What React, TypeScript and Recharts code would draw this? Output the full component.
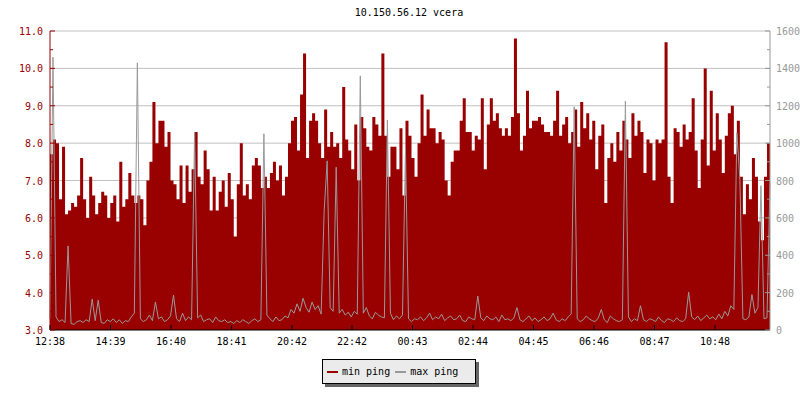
import { ComposedChart, Area, Line, XAxis, YAxis, CartesianGrid } from 'recharts';

const RED = '#990000';
const GRAY = '#999999';
const FONT = '"DejaVu Sans Mono", monospace';

// min ping (ms) – left axis, one value per ~6 minutes, 12:38 -> 12:38
const MIN_PING = [
  7.7, 8.1, 8.0, 6.5, 7.9, 6.1, 6.2, 6.4, 6.3, 6.6,
  7.6, 6.5, 6.0, 7.1, 6.6, 6.1, 6.4, 6.7, 6.6, 6.0,
  6.4, 6.6, 5.9, 7.5, 6.3, 6.5, 7.2, 6.6, 6.4, 6.6,
  6.5, 5.8, 7.0, 7.5, 9.1, 8.0, 8.6, 8.6, 7.9, 8.3,
  7.0, 6.9, 6.5, 7.4, 6.4, 7.4, 6.7, 7.3, 8.3, 7.1,
  6.9, 7.8, 7.3, 6.2, 7.1, 6.2, 6.7, 7.0, 6.3, 7.2,

  6.5, 5.5, 6.9, 8.0, 6.6, 6.9, 6.5, 7.4, 7.6, 7.4,
  6.8, 7.1, 6.8, 7.2, 7.5, 7.0, 7.4, 6.6, 7.1, 8.0,
  8.6, 8.7, 7.8, 9.3, 10.4, 7.6, 8.6, 8.8, 8.6, 8.0,
  7.6, 8.9, 7.9, 8.3, 7.9, 8.0, 7.6, 9.5, 8.1, 7.8,
  7.3, 8.5, 7.0, 8.7, 8.4, 7.9, 7.8, 8.7, 8.5, 8.2,
  10.4, 8.2, 7.1, 7.9, 7.9, 7.3, 8.4, 6.6, 8.6, 8.2,

  7.6, 7.1, 8.0, 9.3, 8.2, 8.9, 8.4, 8.4, 8.0, 8.3,
  8.1, 7.0, 6.6, 7.5, 7.8, 7.8, 8.6, 9.2, 8.3, 8.3,
  7.8, 8.2, 8.1, 9.2, 7.3, 8.5, 9.2, 8.6, 8.8, 8.4,
  8.2, 8.4, 8.2, 8.7, 10.8, 8.8, 7.8, 8.2, 9.4, 8.4,
  8.6, 8.6, 8.7, 8.5, 8.3, 8.3, 8.2, 8.6, 9.4, 8.2,
  8.5, 8.7, 8.0, 8.3, 8.9, 7.9, 9.1, 8.4, 8.8, 8.1,

  8.6, 7.3, 8.2, 8.5, 6.4, 7.6, 8.0, 7.5, 8.3, 7.8,
  8.6, 8.1, 7.6, 8.8, 8.2, 8.6, 8.3, 7.2, 8.1, 8.0,
  7.0, 8.1, 8.0, 8.1, 10.7, 7.1, 6.4, 8.4, 8.3, 7.9,
  8.5, 8.1, 8.3, 9.2, 7.8, 6.8, 8.1, 10.0, 7.4, 9.4,
  7.8, 8.8, 8.1, 7.2, 8.2, 8.8, 9.0, 7.7, 8.6, 7.1,
  6.1, 6.9, 6.5, 7.6, 7.1, 5.9, 5.4, 7.1, 8.0, 6.7,
];

// max ping (ms) – right axis
const MAX_PING = [
  60, 1460, 70, 45, 55, 40, 450, 35, 30, 45, 50, 40, 55, 45, 165, 50, 160, 40, 35, 55,
  45, 60, 40, 55, 35, 50, 45, 70, 90, 1430, 60, 45, 55, 80, 50, 150, 60, 70, 45, 55,
  75, 187, 60, 45, 90, 50, 70, 55, 1060, 65, 80, 45, 55, 60, 40, 70, 50, 45, 55, 40,
  45, 35, 50, 40, 55, 45, 35, 50, 60, 45, 55, 1050, 80, 60, 45, 70, 50, 55, 75, 65,
  110, 90, 140, 100, 170, 120, 95, 150, 110, 130, 85, 636, 905, 120, 100, 871, 90, 110, 80, 95,
  70, 100, 85, 1360, 90, 120, 75, 60, 95, 80, 70, 65, 1123, 90, 55, 75, 60, 80, 968, 60,
  45, 60, 55, 70, 50, 65, 90, 55, 70, 60, 85, 50, 65, 75, 55, 60, 80, 50, 45, 70,
  60, 55, 182, 65, 50, 75, 60, 55, 70, 45, 80, 55, 60, 50, 65, 120, 55, 45, 60, 75,
  50, 65, 45, 55, 70, 50, 60, 90, 55, 45, 60, 50, 70, 85, 1194, 60, 45, 55, 75, 60,
  50, 45, 65, 110, 55, 40, 75, 60, 50, 45, 55, 1225, 70, 45, 60, 50, 130, 55, 45, 60,
  55, 45, 70, 50, 40, 60, 55, 45, 65, 50, 45, 60, 203, 70, 55, 75, 50, 65, 80, 60,
  70, 55, 85, 60, 100, 75, 130, 110, 1055, 807, 60, 55, 70, 190, 90, 120, 772, 60, 65, 788,
];

// minutes after 12:38
const TIME_TICKS = [0, 121, 242, 363, 484, 604, 725, 846, 967, 1088, 1209, 1330];
const TIME_LABELS = ['12:38', '14:39', '16:40', '18:41', '20:42', '22:42', '00:43', '02:44', '04:45', '06:46', '08:47', '10:48'];

const LEFT_TICKS = [3, 3.5, 4, 4.5, 5, 5.5, 6, 6.5, 7, 7.5, 8, 8.5, 9, 9.5, 10, 10.5, 11];
const RIGHT_TICKS = [0, 100, 200, 300, 400, 500, 600, 700, 800, 900, 1000, 1100, 1200, 1300, 1400, 1500, 1600];
const GRID_VALUES = [4, 5, 6, 7, 8, 9, 10, 11];

const data = MIN_PING.map((v, i) => ({
  t: (i * 1440) / (MIN_PING.length - 1),
  min: v,
  max: MAX_PING[i],
}));

const LeftTick = ({ x, y, payload }: any) => {
  const v = payload.value;
  const major = Number.isInteger(v);
  return (
    <g>
      <line x1={x} x2={x + (major ? 5 : 3)} y1={y} y2={y} stroke={RED} />
      {major && (
        <text x={x - 7} y={y + 4} textAnchor="end" fill={RED} fontSize={10} fontFamily={FONT}>
          {v.toFixed(1)}
        </text>
      )}
    </g>
  );
};

const RightTick = ({ x, y, payload }: any) => {
  const v = payload.value;
  const major = v % 200 === 0;
  return (
    <g>
      <line x1={x} x2={x - (major ? 5 : 3)} y1={y} y2={y} stroke={GRAY} />
      {major && (
        <text x={x + 6} y={y + 4} textAnchor="start" fill={GRAY} fontSize={10} fontFamily={FONT}>
          {v}
        </text>
      )}
    </g>
  );
};

const TimeTick = ({ x, y, payload }: any) => {
  const idx = TIME_TICKS.indexOf(payload.value);
  return (
    <g>
      <line x1={x} x2={x} y1={y} y2={y - 5} stroke="#000" />
      <text x={x} y={y + 15} textAnchor="middle" fill="#000" fontSize={10} fontFamily={FONT}>
        {TIME_LABELS[idx]}
      </text>
    </g>
  );
};

export default function App() {
  return (
    <div style={{ position: 'absolute', left: 0, top: 0, width: 800, height: 400, background: '#fff' }}>
      <div
        style={{
          position: 'absolute', left: 0, top: 7, width: 818, textAlign: 'center',
          fontFamily: FONT, fontSize: 10, lineHeight: '12px', color: '#000',
        }}
      >
        10.150.56.12 vcera
      </div>

      <ComposedChart width={800} height={400} data={data} margin={{ top: 31, right: 0, bottom: 50, left: 0 }}>
        <CartesianGrid yAxisId="left" vertical={false} horizontalValues={GRID_VALUES} stroke="#c0c0c0" />
        <XAxis
          dataKey="t"
          type="number"
          domain={[0, 1440]}
          ticks={TIME_TICKS}
          tick={<TimeTick />}
          tickSize={0}
          tickMargin={0}
          tickLine={false}
          axisLine={{ stroke: '#000' }}
          height={20}
          interval={0}
        />
        <YAxis
          yAxisId="left"
          orientation="left"
          domain={[3, 11]}
          ticks={LEFT_TICKS}
          tick={<LeftTick />}
          tickSize={0}
          tickMargin={0}
          tickLine={false}
          axisLine={{ stroke: RED }}
          width={50}
          interval={0}
          allowDataOverflow
        />
        <YAxis
          yAxisId="right"
          orientation="right"
          domain={[0, 1600]}
          ticks={RIGHT_TICKS}
          tick={<RightTick />}
          tickSize={0}
          tickMargin={0}
          tickLine={false}
          axisLine={{ stroke: GRAY }}
          width={30}
          interval={0}
          allowDataOverflow
        />
        <Area
          yAxisId="left"
          type="stepAfter"
          dataKey="min"
          fill={RED}
          fillOpacity={1}
          stroke="none"
          isAnimationActive={false}
        />
        <Line
          yAxisId="right"
          type="linear"
          dataKey="max"
          stroke={GRAY}
          strokeWidth={1}
          dot={false}
          isAnimationActive={false}
        />
      </ComposedChart>

      {/* legend */}
      <div
        style={{
          position: 'absolute', left: 322, top: 359, width: 152, height: 23,
          border: '1px solid #000', background: '#ebebeb', boxShadow: '3px 3px 0 #666',
          display: 'flex', alignItems: 'center', fontFamily: FONT, fontSize: 10, color: '#000',
        }}
      >
        <span style={{ display: 'inline-block', width: 11, height: 2, background: RED, marginLeft: 4, marginRight: 4 }} />
        <span>min ping</span>
        <span style={{ display: 'inline-block', width: 11, height: 2, background: GRAY, marginLeft: 5, marginRight: 4 }} />
        <span>max ping</span>
      </div>
    </div>
  );
}
